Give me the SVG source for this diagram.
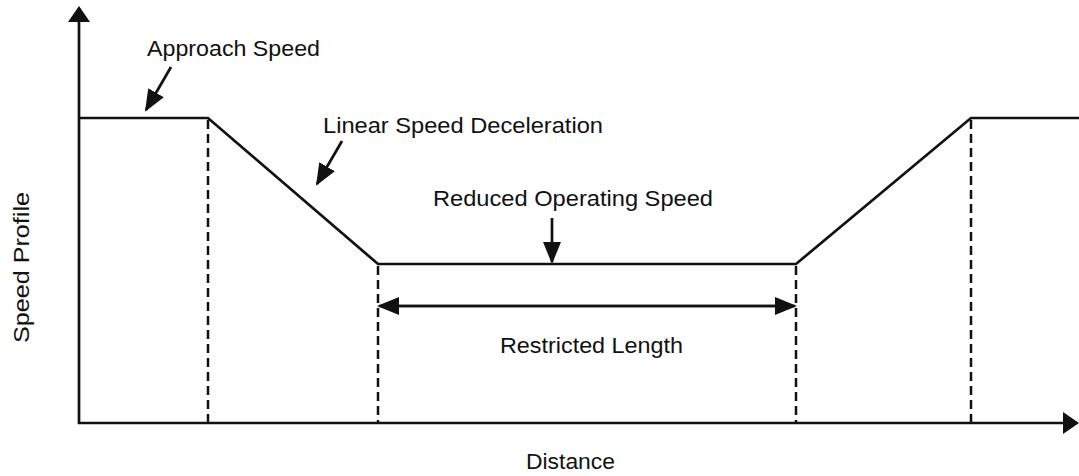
<svg xmlns="http://www.w3.org/2000/svg" width="1079" height="476" viewBox="0 0 1079 476">
<style>
.ln{fill:none;stroke:#111;stroke-width:2.7}
.dash{fill:none;stroke:#111;stroke-width:2.5;stroke-dasharray:9 5}
.lbl{font-family:"Liberation Sans",Arial,sans-serif;font-size:22px;fill:#111}
</style>
<defs>
<marker id="big" viewBox="0 0 16 22" markerWidth="16" markerHeight="22" refX="14" refY="11" orient="auto" markerUnits="userSpaceOnUse">
<path d="M0,0 L16,11 L0,22 z" fill="#111"/>
</marker>
<marker id="sm" viewBox="0 0 22 18" markerWidth="22" markerHeight="18" refX="20" refY="9" orient="auto" markerUnits="userSpaceOnUse">
<path d="M0,0 L22,9 L0,18 z" fill="#111"/>
</marker>
</defs>
<rect width="1079" height="476" fill="#fff"/>
<g id="axes">
<line class="ln" x1="79" y1="424" x2="79" y2="8" marker-end="url(#big)"/>
<line class="ln" x1="78" y1="423" x2="1077" y2="423" marker-end="url(#big)"/>
</g>
<g id="profile">
<polyline class="ln" points="78,118 208,118 378,264 796,264 971,118 1079,118"/>
</g>
<g id="guides">
<line class="dash" x1="208" y1="120" x2="208" y2="422"/>
<line class="dash" x1="378" y1="266" x2="378" y2="422"/>
<line class="dash" x1="796" y1="266" x2="796" y2="422"/>
<line class="dash" x1="971" y1="120" x2="971" y2="422"/>
</g>
<g id="connectors">
<line class="ln" x1="171" y1="67" x2="146" y2="110" marker-end="url(#sm)"/>
<line class="ln" x1="342" y1="141" x2="317" y2="184" marker-end="url(#sm)"/>
<line class="ln" x1="552" y1="218" x2="552" y2="262" marker-end="url(#sm)"/>
<line class="ln" x1="390" y1="306" x2="795" y2="306" marker-end="url(#sm)"/>
<line class="ln" x1="780" y1="306" x2="379" y2="306" marker-end="url(#sm)"/>
</g>
<g id="label-approach"><text class="lbl" x="147" y="56" textLength="173" lengthAdjust="spacingAndGlyphs">Approach Speed</text></g>
<g id="label-linear"><text class="lbl" x="323" y="133" textLength="280" lengthAdjust="spacingAndGlyphs">Linear Speed Deceleration</text></g>
<g id="label-reduced"><text class="lbl" x="433" y="206" textLength="280" lengthAdjust="spacingAndGlyphs">Reduced Operating Speed</text></g>
<g id="label-restricted"><text class="lbl" x="500" y="353" textLength="183" lengthAdjust="spacingAndGlyphs">Restricted Length</text></g>
<g id="label-distance"><text class="lbl" x="526" y="469" textLength="89" lengthAdjust="spacingAndGlyphs">Distance</text></g>
<g id="label-speed"><text class="lbl" transform="translate(29,343) rotate(-90)" x="0" y="0" textLength="151" lengthAdjust="spacingAndGlyphs">Speed Profile</text></g>
</svg>
